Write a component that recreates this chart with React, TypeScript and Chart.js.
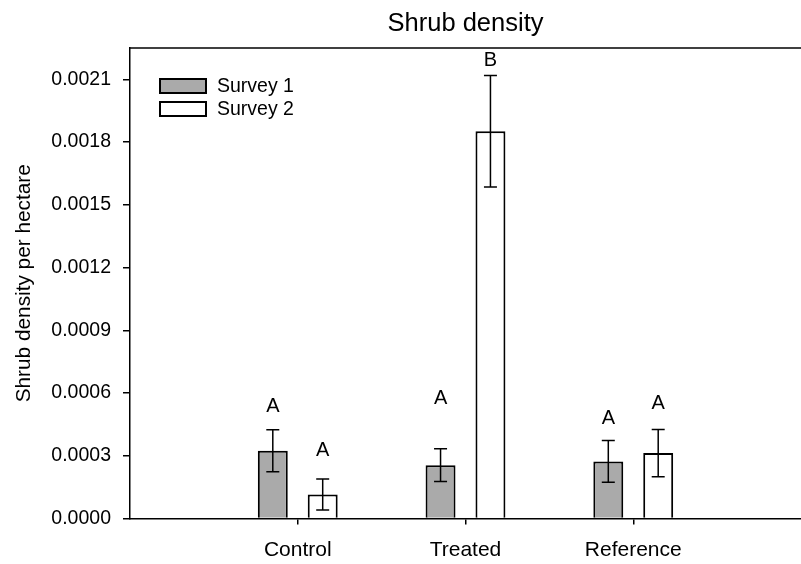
import { useEffect, useRef } from 'react';
import { Chart, registerables } from 'chart.js';

Chart.register(...registerables);

const chartTitle = 'Shrub density';
const yAxisTitle = 'Shrub density per hectare';
const categories = ['Control', 'Treated', 'Reference'];
const seriesNames = ['Survey 1', 'Survey 2'];
const survey1 = [0.000324, 0.000255, 0.000273];
const survey2 = [0.000115, 0.001852, 0.000313];
const survey1Err = [0.0001, 0.000078, 0.0001];
const survey2Err = [0.000074, 0.000267, 0.000113];
const survey1Letters = ['A', 'A', 'A'];
const survey2Letters = ['A', 'B', 'A'];
const survey1LetterY = [0.000535, 0.000572, 0.000479];
const survey2LetterY = [0.000327, 0.002188, 0.000551];
const yTicks = [0, 0.0003, 0.0006, 0.0009, 0.0012, 0.0015, 0.0018, 0.0021];
const yMin = 0;
const yMax = 0.00225;

const FONT = '"Liberation Sans", Arial, Helvetica, sans-serif';
const GREY = '#aaaaaa';

const errs = [survey1Err, survey2Err];
const vals = [survey1, survey2];
const letters = [survey1Letters, survey2Letters];
const letterYs = [survey1LetterY, survey2LetterY];
const fills = [GREY, '#ffffff'];

const overlayPlugin = {
  id: 'overlay',
  afterDatasetsDraw(chart: any) {
    const ctx = chart.ctx;
    const ys = chart.scales.y;
    const area = chart.chartArea;
    ctx.save();
    // top frame line
    ctx.strokeStyle = '#000';
    ctx.lineWidth = 1.5;
    ctx.beginPath();
    ctx.moveTo(area.left, area.top);
    ctx.lineTo(area.right, area.top);
    ctx.stroke();
    // error bars and letters
    for (let d = 0; d < 2; d++) {
      const meta = chart.getDatasetMeta(d);
      for (let i = 0; i < categories.length; i++) {
        const bar = meta.data[i + 1];
        if (!bar) continue;
        const x = bar.x;
        const v = vals[d][i];
        const e = errs[d][i];
        const yTop = ys.getPixelForValue(v + e);
        const yBot = ys.getPixelForValue(v - e);
        ctx.strokeStyle = '#000';
        ctx.lineWidth = 1.5;
        ctx.beginPath();
        ctx.moveTo(x, yTop);
        ctx.lineTo(x, yBot);
        ctx.moveTo(x - 6.5, yTop);
        ctx.lineTo(x + 6.5, yTop);
        ctx.moveTo(x - 6.5, yBot);
        ctx.lineTo(x + 6.5, yBot);
        ctx.stroke();
        ctx.fillStyle = '#000';
        ctx.font = `20px ${FONT}`;
        ctx.textAlign = 'center';
        ctx.textBaseline = 'middle';
        ctx.fillText(letters[d][i], x, ys.getPixelForValue(letterYs[d][i]));
      }
    }
    // legend
    const bx = area.left + 30;
    const by = area.top + 31;
    for (let d = 0; d < 2; d++) {
      const top = by + d * 23;
      ctx.fillStyle = fills[d];
      ctx.fillRect(bx, top, 46, 14);
      ctx.strokeStyle = '#000';
      ctx.lineWidth = 2;
      ctx.strokeRect(bx, top, 46, 14);
      ctx.fillStyle = '#000';
      ctx.font = `19.5px ${FONT}`;
      ctx.textAlign = 'left';
      ctx.textBaseline = 'middle';
      ctx.fillText(seriesNames[d], bx + 57, top + 7.5);
    }
    ctx.restore();
  },
};

export default function App() {
  const ref = useRef<HTMLCanvasElement | null>(null);
  useEffect(() => {
    if (!ref.current) return;
    const labels = ['', ...categories, ''];
    const chart = new Chart(ref.current, {
      type: 'bar',
      data: {
        labels,
        datasets: [
          {
            label: seriesNames[0],
            data: [null, ...survey1, null],
            backgroundColor: GREY,
            borderColor: '#000',
            borderWidth: 2,
            categoryPercentage: 0.595,
            barPercentage: 0.6,
          },
          {
            label: seriesNames[1],
            data: [null, ...survey2, null],
            backgroundColor: '#ffffff',
            borderColor: '#000',
            borderWidth: 2,
            categoryPercentage: 0.595,
            barPercentage: 0.6,
          },
        ],
      },
      options: {
        responsive: true,
        maintainAspectRatio: false,
        animation: false,
        layout: { padding: 0 },
        plugins: {
          legend: { display: false },
          tooltip: { enabled: false },
          title: {
            display: true,
            text: chartTitle,
            fullSize: false,
            color: '#000',
            font: { family: FONT, size: 25.5, weight: 'normal' },
            padding: { top: 9, bottom: 8.4 },
          },
        },
        scales: {
          x: {
            type: 'category',
            offset: false,
            grid: {
              offset: false,
              drawOnChartArea: false,
              drawTicks: true,
              tickLength: 6,
              lineWidth: 1.5,
              color: (c: any) => (c.index === 0 || c.index === labels.length - 1 ? 'rgba(0,0,0,0)' : '#000'),
            },
            border: { display: true, color: '#000', width: 1.5 },
            ticks: {
              color: '#000',
              font: { family: FONT, size: 21 },
              padding: 13,
              maxRotation: 0,
              autoSkip: false,
            },
            afterFit: (s: any) => {
              s.height = 45.5;
              s.paddingLeft = 0;
              s.paddingRight = 0;
            },
          },
          y: {
            min: yMin,
            max: yMax,
            grid: {
              drawOnChartArea: false,
              drawTicks: true,
              tickLength: 7,
              lineWidth: 1.5,
              color: '#000',
            },
            border: { display: true, color: '#000', width: 1.5 },
            ticks: {
              color: '#000',
              font: { family: FONT, size: 19.5 },
              padding: 12,
              callback: (v: any) => Number(v).toFixed(4),
            },
            afterBuildTicks: (s: any) => {
              s.ticks = yTicks.map((v) => ({ value: v }));
            },
            afterFit: (s: any) => {
              s.width = 130;
              s.paddingTop = 0;
              s.paddingBottom = 0;
            },
            title: {
              display: true,
              text: yAxisTitle,
              color: '#000',
              font: { family: FONT, size: 20.8 },
              padding: { top: 12, bottom: 0 },
            },
          },
        },
      },
      plugins: [overlayPlugin],
    } as any);
    return () => chart.destroy();
  }, []);
  return (
    <div style={{ position: 'fixed', left: 0, top: 0, width: 801, height: 564, background: '#fff' }}>
      <canvas ref={ref} />
    </div>
  );
}
